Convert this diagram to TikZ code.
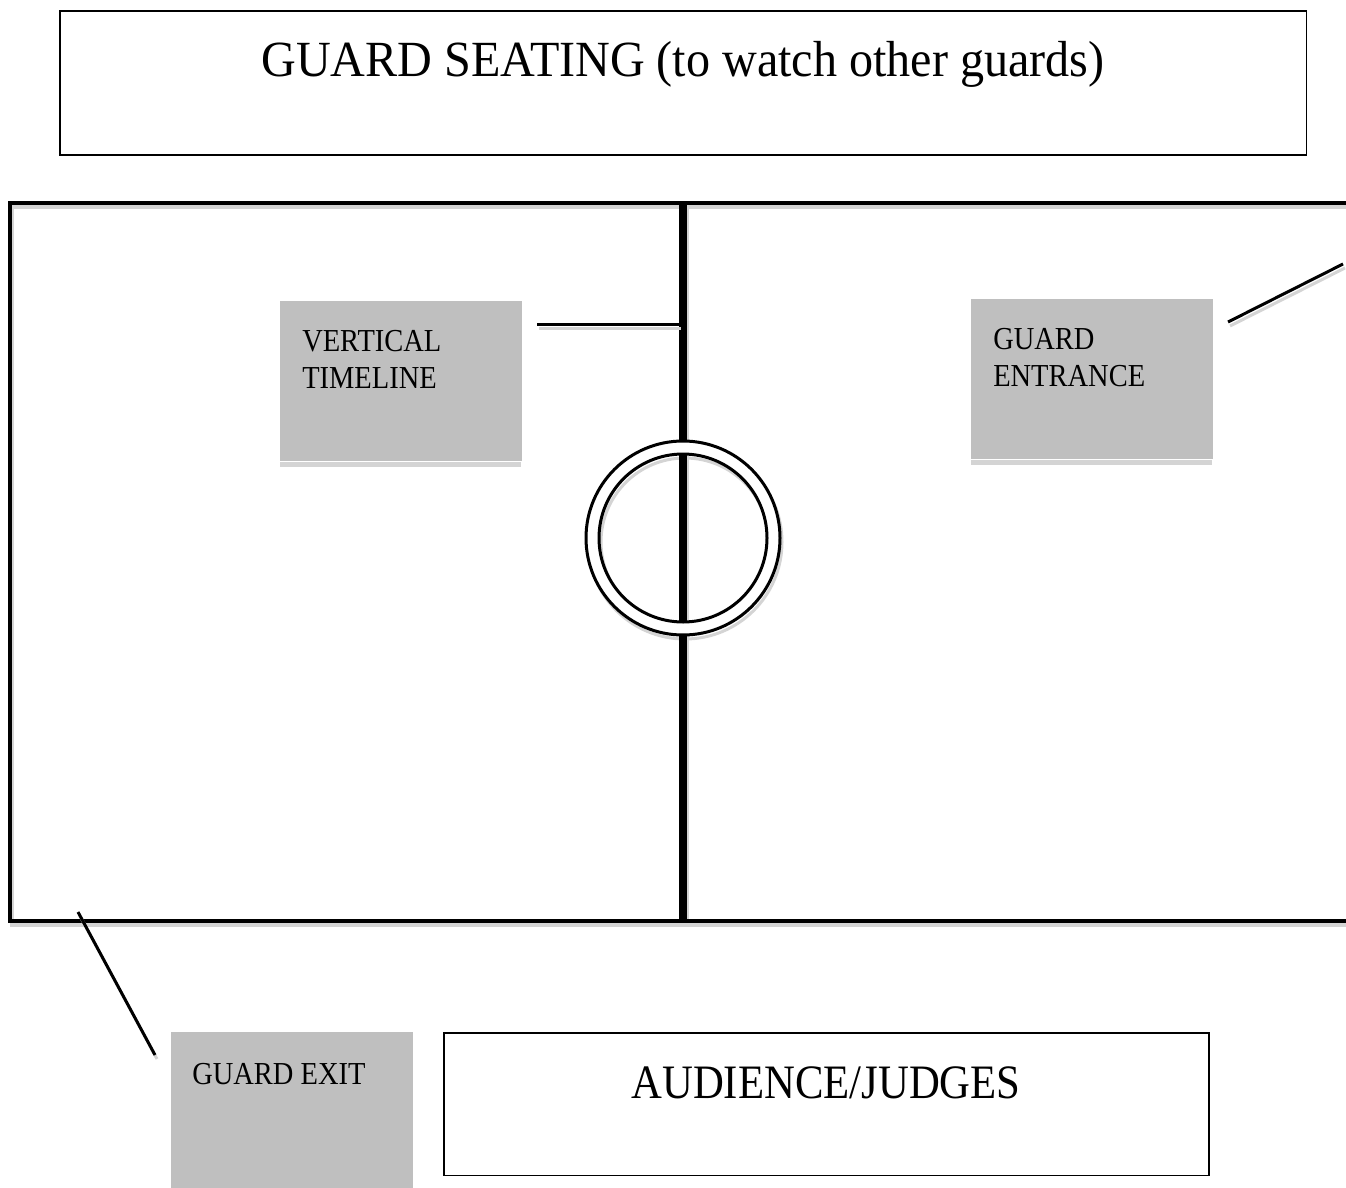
\documentclass[tikz,border=0pt]{standalone}
\usepackage{fontspec}
\setmainfont{Liberation Serif}
\newfontfamily\labelfont[FakeStretch=0.89]{Liberation Serif}
\newfontfamily\titlefont[FakeStretch=0.95]{Liberation Serif}
\definecolor{boxgray}{RGB}{191,191,191}
\definecolor{shadegray}{RGB}{212,212,212}
\begin{document}
\begin{tikzpicture}[x=0.75pt,y=0.75pt,yscale=-1,xscale=1,
  plainbox/.style={draw, line width=1.2pt, fill=white, inner sep=0pt},
  graybox/.style={fill=boxgray, inner sep=0pt, minimum width=181pt, minimum height=120pt},
  boxlabel/.style={anchor=north west, inner sep=0pt, align=left, font=\labelfont\fontsize{24}{27.75}\selectfont},
  fieldline/.style={line width=3pt},
  midline/.style={line width=6pt},
  pointer/.style={line width=2.25pt},
  shade/.style={shadegray, transform canvas={shift={(1.5pt,-3pt)}}}]
\useasboundingbox (0,0) rectangle (1346,1188);

% Guard seating
\node (seating) [plainbox, minimum width=935pt, minimum height=108pt, anchor=north west] at (59,10) {};
\node (seatingtxt) [anchor=base, inner sep=0pt] at (683,77) {\titlefont\fontsize{38}{42}\selectfont GUARD SEATING (to watch other guards)};

% floor corners
\coordinate (fnw) at (10,203);
\coordinate (fsw) at (10,921);
\coordinate (fne) at (1346,203);
\coordinate (fse) at (1346,921);
\coordinate (mtop) at (683,203);
\coordinate (mbot) at (683,921);
\coordinate (ctr) at (683,538);

% shadows
\draw [shade, fieldline] (fne) -- (fnw) -- (fsw) -- (fse);
\draw [shade, midline] (mtop) -- (mbot);
\draw [shade, line width=2.25pt] (ctr) circle (97) (ctr) circle (84);

% floor outline
\draw [fieldline] (fne) -- (fnw) -- (fsw) -- (fse);
% timeline
\draw [midline] (mtop) -- (mbot);

% centre ring
\fill [white, even odd rule] (ctr) circle (97) (ctr) circle (84);
\draw [line width=2.25pt] (ctr) circle (97);
\draw [line width=2.25pt] (ctr) circle (84);

% Vertical timeline
\node (timeline) [graybox, anchor=north west] at (280,301) {};
\fill [shadegray] (timeline.south west) rectangle ++(241,5);
\node (timelinetxt) [boxlabel] at (302,330) {VERTICAL\\TIMELINE};
\coordinate (tlend) at (537,324);
\coordinate (tlhit) at (679,324);
\draw [shade, pointer] (tlend) -- (tlhit);
\draw [pointer] (tlend) -- (tlhit);

% Guard entrance
\node (entrance) [graybox, anchor=north west] at (971,299) {};
\fill [shadegray] (entrance.south west) rectangle ++(241,5);
\node (entrancetxt) [boxlabel] at (993,328) {GUARD\\ENTRANCE};
\coordinate (inend) at (1228,322);
\coordinate (indoor) at (1343,264);
\draw [shade, pointer] (inend) -- (indoor);
\draw [pointer] (inend) -- (indoor);

% Guard exit
\node (exit) [graybox, anchor=north west, minimum height=117pt] at (171,1032) {};
\node (exittxt) [boxlabel] at (192,1063) {GUARD EXIT};
\coordinate (outdoor) at (78,912);
\coordinate (outend) at (155,1055);
\draw [shade, pointer] (outdoor) -- (outend);
\draw [pointer] (outdoor) -- (outend);

% Audience
\node (audience) [plainbox, minimum width=574pt, minimum height=107pt, anchor=north west] at (443,1032) {};
\node (audiencetxt) [anchor=base, inner sep=0pt] at (826,1098) {\labelfont\fontsize{36}{40}\selectfont AUDIENCE/JUDGES};

\end{tikzpicture}
\end{document}
